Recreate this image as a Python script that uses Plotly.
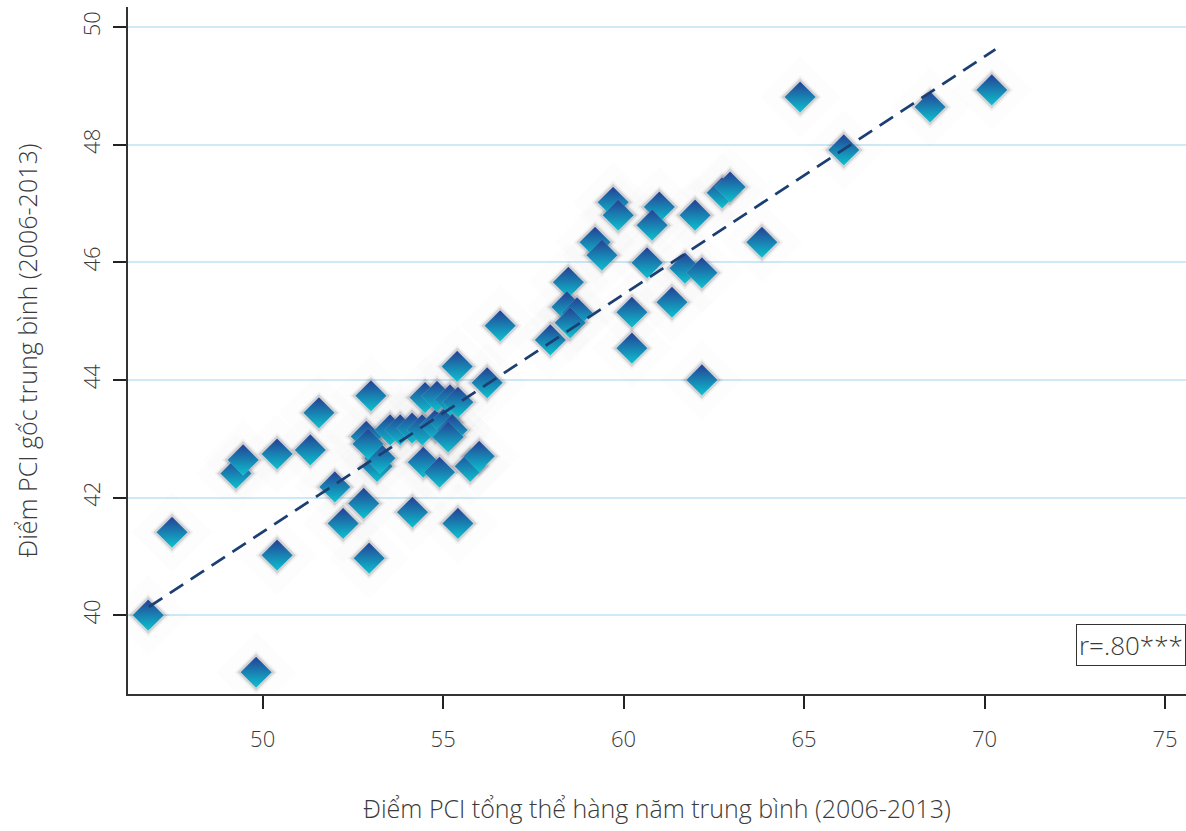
import plotly.graph_objects as go

# Average annual overall PCI score (x) vs average original PCI score (y), 2006-2013
pci_total = [46.83, 47.49, 49.82, 49.26, 49.46, 50.40, 50.40, 51.32, 51.56, 52.00,
             52.23, 53.00, 52.80, 52.95, 53.17, 53.25, 52.87, 52.92, 54.15, 55.41,
             54.45, 54.90, 55.75, 56.00, 55.39, 56.22, 56.58,
             53.53, 53.81, 54.14, 54.42, 54.78, 55.06, 55.25, 55.14,
             54.50, 54.83, 55.19, 55.41,
             59.71, 59.85, 60.99, 60.79, 61.98, 62.73, 62.95, 59.21, 59.40, 60.65,
             61.70, 62.17, 58.47, 58.43, 58.71, 58.52, 57.97, 60.23, 61.34, 60.23,
             62.17, 63.83, 64.89, 66.10, 68.49, 70.20]
pci_original = [40.00, 41.41, 39.03, 42.41, 42.64, 42.74, 41.02, 42.81, 43.44, 42.18,
                41.56, 43.73, 41.90, 40.97, 42.53, 42.67, 43.04, 42.91, 41.75, 41.56,
                42.60, 42.43, 42.53, 42.70, 44.23, 43.95, 44.92,
                43.15, 43.15, 43.18, 43.15, 43.23, 43.28, 43.15, 43.03,
                43.70, 43.72, 43.66, 43.62,
                47.02, 46.80, 46.94, 46.63, 46.80, 47.18, 47.28, 46.34, 46.12, 45.99,
                45.90, 45.82, 45.66, 45.24, 45.14, 44.97, 44.68, 45.15, 45.32, 44.54,
                44.00, 46.34, 48.81, 47.91, 48.64, 48.93]

trend_x = [46.85, 70.3]
trend_y = [40.14, 49.62]

x_ticks = [50, 55, 60, 65, 70, 75]
y_ticks = [40, 42, 44, 46, 48, 50]

x_title = "Điểm PCI tổng thể hàng năm trung bình (2006-2013)"
y_title = "Điểm PCI gốc trung bình (2006-2013)"
r_label = "r=.80***"

FONT = "Open Sans"
TXT = "#3a3a3a"

fig = go.Figure()

# soft halo / shadow layers
fig.add_trace(go.Scatter(x=pci_total, y=pci_original, mode="markers", hoverinfo="skip",
                         marker=dict(symbol="diamond", size=62, color="rgba(140,140,150,0.018)",
                                     line=dict(width=0))))
fig.add_trace(go.Scatter(x=pci_total, y=pci_original, mode="markers", hoverinfo="skip",
                         marker=dict(symbol="diamond", size=33, color="rgba(60,60,80,0.06)",
                                     line=dict(width=0))))
fig.add_trace(go.Scatter(x=pci_total, y=pci_original, mode="markers", hoverinfo="skip",
                         marker=dict(symbol="diamond", size=29, color="rgba(40,40,60,0.15)",
                                     line=dict(width=0))))

# main diamonds (navy top -> cyan bottom)
fig.add_trace(go.Scatter(x=pci_total, y=pci_original, mode="markers",
                         marker=dict(symbol="diamond", size=24, color="#253f94",
                                     gradient=dict(type="vertical", color="#0cc2cf"),
                                     line=dict(width=0.4, color="rgba(255,255,255,0.3)"))))

# trend line
fig.add_trace(go.Scatter(x=trend_x, y=trend_y, mode="lines", hoverinfo="skip",
                         line=dict(color="#1b3f72", width=2.8, dash="16px,9px")))

fig.add_annotation(x=1, xref="paper", xanchor="right", y=39.49, yref="y", yanchor="middle",
                   text=r_label, showarrow=False,
                   font=dict(family=FONT, size=26, color=TXT, weight=300),
                   bordercolor="#333333", borderwidth=1, borderpad=2, bgcolor="white")

fig.update_layout(
    width=1186, height=831,
    margin=dict(l=128, r=0, t=7, b=137),
    paper_bgcolor="white", plot_bgcolor="white",
    showlegend=False,
    font=dict(family=FONT, color=TXT, size=22, weight=300),
    xaxis=dict(range=[46.27, 75.58], tickvals=x_ticks, showgrid=False, zeroline=False,
               showline=True, linecolor="#333333", linewidth=1.5,
               ticks="outside", ticklen=13, tickwidth=2, tickcolor="#222222",
               ticklabelstandoff=12,
               tickfont=dict(family=FONT, size=22, color=TXT, weight=300),
               title=dict(text=x_title, standoff=48,
                          font=dict(family=FONT, size=25, color=TXT, weight=300))),
    yaxis=dict(range=[38.66, 50.34], tickvals=y_ticks, showgrid=True,
               gridcolor="#cfe9f7", gridwidth=1.5, zeroline=False,
               showline=True, linecolor="#333333", linewidth=1.5,
               ticks="outside", ticklen=13, tickwidth=2, tickcolor="#222222",
               tickangle=-90, ticklabelstandoff=4,
               tickfont=dict(family=FONT, size=22, color=TXT, weight=300),
               title=dict(text=y_title, standoff=32,
                          font=dict(family=FONT, size=25, color=TXT, weight=300))),
)

fig.write_html("out.html")
